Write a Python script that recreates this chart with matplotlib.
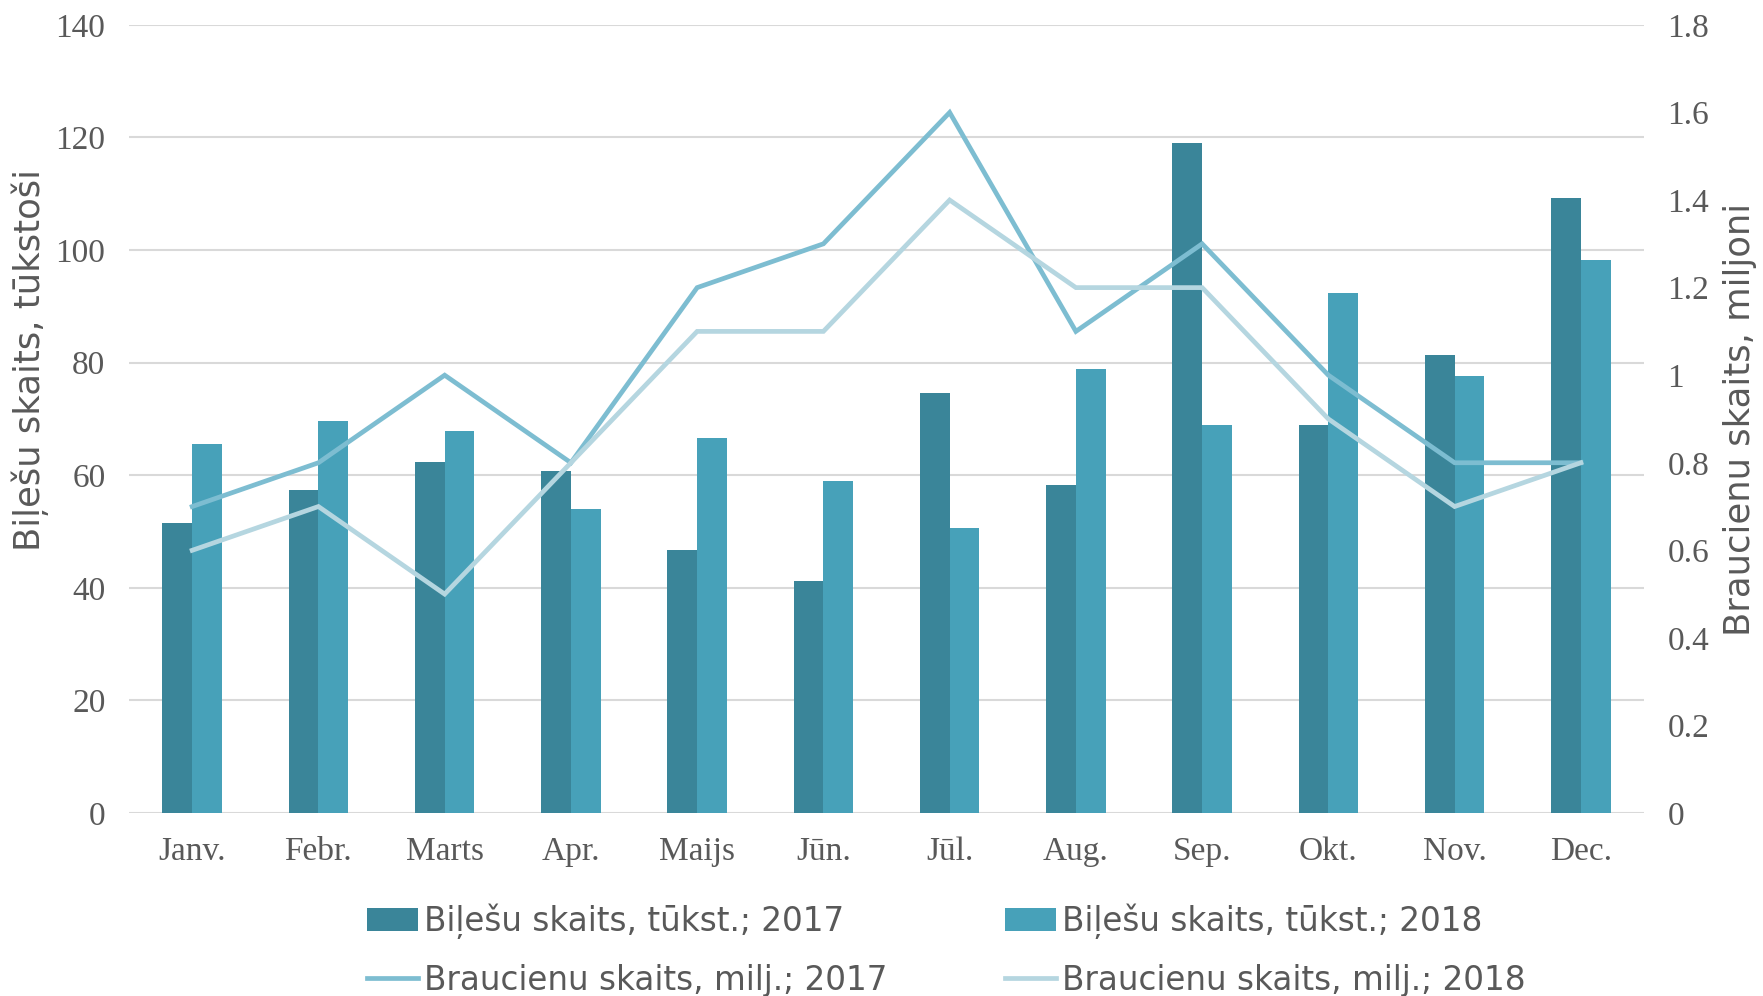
import matplotlib.pyplot as plt
import numpy as np
from matplotlib.ticker import FuncFormatter

months = ['Janv.', 'Febr.', 'Marts', 'Apr.', 'Maijs', 'Jūn.',
          'Jūl.', 'Aug.', 'Sep.', 'Okt.', 'Nov.', 'Dec.']
tickets_2017 = [51.6, 57.3, 62.3, 60.8, 46.7, 41.2, 74.6, 58.2, 119.0, 68.9, 81.3, 109.3]
tickets_2018 = [65.5, 69.7, 67.9, 54.0, 66.7, 58.9, 50.7, 78.9, 68.9, 92.3, 77.7, 98.3]
trips_2017 = [0.7, 0.8, 1.0, 0.8, 1.2, 1.3, 1.6, 1.1, 1.3, 1.0, 0.8, 0.8]
trips_2018 = [0.6, 0.7, 0.5, 0.8, 1.1, 1.1, 1.4, 1.2, 1.2, 0.9, 0.7, 0.8]

c_bar17 = '#3a8599'
c_bar18 = '#47a1b9'
c_line17 = '#7dbdd1'
c_line18 = '#b5d6e0'
grey = '#595959'
serif = 'Liberation Serif'

fig = plt.figure(figsize=(17.63, 9.96), dpi=100)
ax = fig.add_axes([0.0732, 0.1837, 0.8593, 0.7913])
ax2 = ax.twinx()

x = np.arange(len(months))
w = 0.236
b1 = ax.bar(x - w / 2, tickets_2017, w, color=c_bar17, zorder=2)
b2 = ax.bar(x + w / 2, tickets_2018, w, color=c_bar18, zorder=2)
l1, = ax2.plot(x, trips_2017, color=c_line17, lw=3.4, solid_joinstyle='miter')
l2, = ax2.plot(x, trips_2018, color=c_line18, lw=3.4, solid_joinstyle='miter')

ax.set_xlim(-0.5, 11.5)
ax.set_ylim(0, 140)
ax.set_yticks(range(0, 141, 20))
ax2.set_ylim(0, 1.8)
ax2.set_yticks(np.arange(0, 1.81, 0.2))
ax2.yaxis.set_major_formatter(FuncFormatter(lambda v, p: '%g' % round(v, 1)))

ax.grid(axis='y', color='#d9d9d9', lw=1.5, zorder=0)
for a in (ax, ax2):
    for s in a.spines.values():
        s.set_visible(False)
    a.tick_params(length=0, labelcolor=grey, labelsize=24)
    for t in a.get_yticklabels():
        t.set_fontfamily(serif)
ax.tick_params(axis='y', pad=17)
ax2.tick_params(axis='y', pad=17)
ax.tick_params(axis='x', pad=17)
ax.set_xticks(x)
ax.set_xticklabels(months, fontfamily=serif)

ax.set_ylabel('Biļešu skaits, tūkstoši', fontsize=25.5, color=grey)
ax.yaxis.set_label_coords(-0.053, 0.575)
ax2.set_ylabel('Braucienu skaits, miljoni', fontsize=25.5, color=grey)
ax2.yaxis.set_label_coords(1.052, 0.5)

fig.legend([b1, l1, b2, l2],
           ['Biļešu skaits, tūkst.; 2017', 'Braucienu skaits, milj.; 2017',
            'Biļešu skaits, tūkst.; 2018', 'Braucienu skaits, milj.; 2018'],
           ncol=2, loc='lower center', bbox_to_anchor=(0.537, -0.03),
           frameon=False, fontsize=23.5, labelcolor=grey,
           handlelength=1.55, handletextpad=0.2, columnspacing=3.6,
           labelspacing=0.75)

fig.savefig('out.png', dpi=100)
